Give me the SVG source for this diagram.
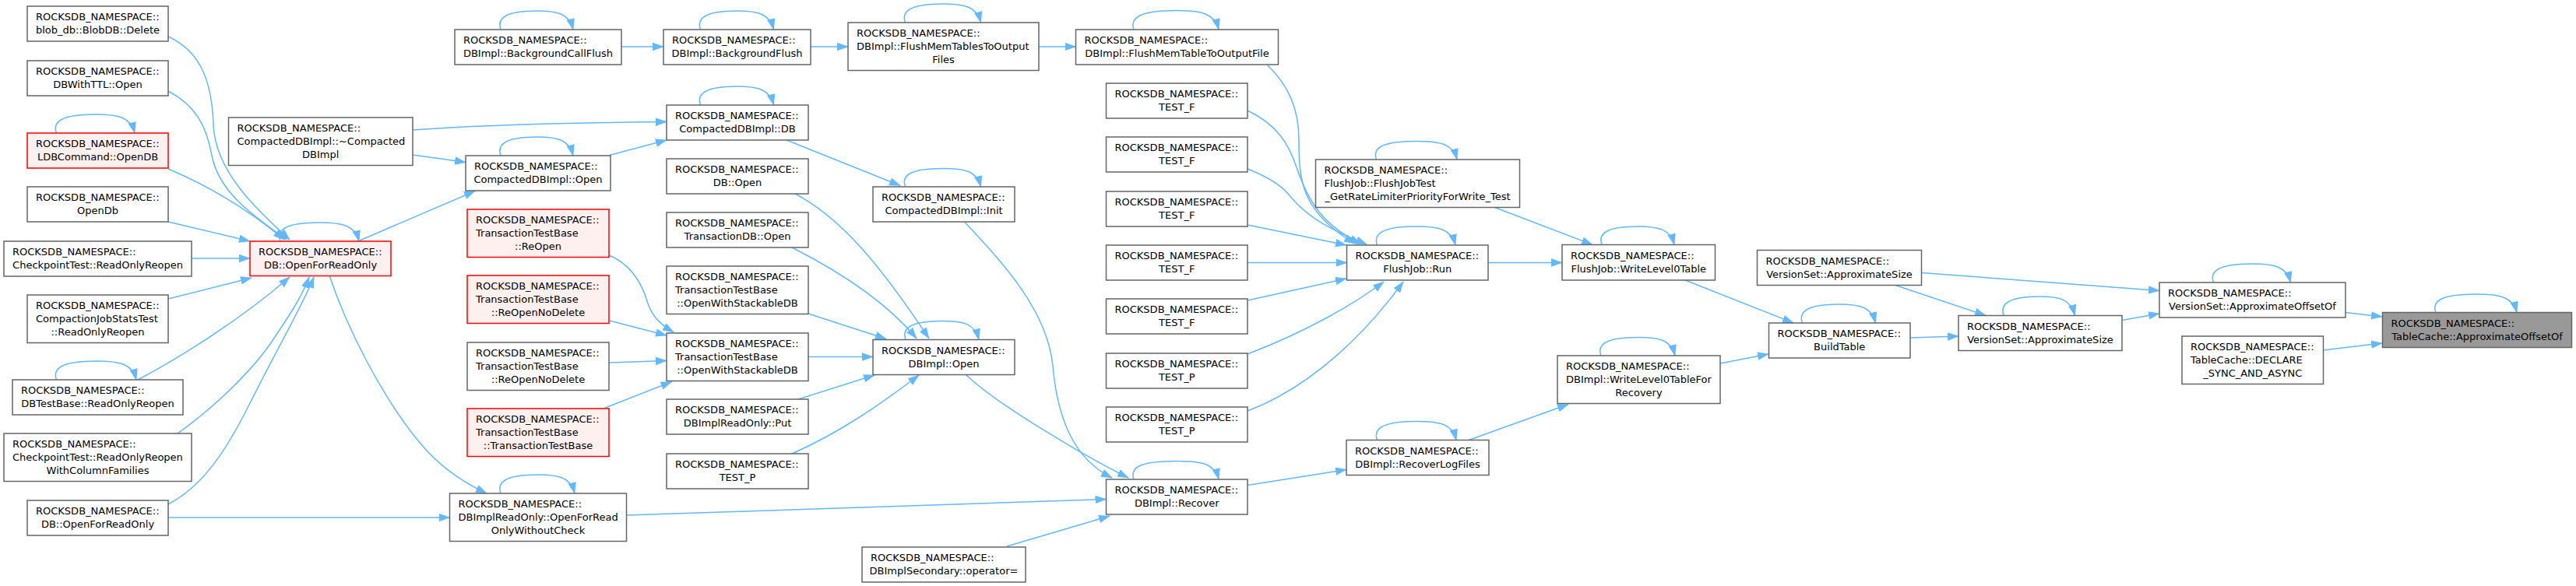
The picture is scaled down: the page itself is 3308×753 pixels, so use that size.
<svg xmlns="http://www.w3.org/2000/svg" width="3308" height="753" viewBox="0 0 3308 753">
<style>
rect.n{fill:#ffffff;stroke:#666666;stroke-width:1.5}
rect.r{fill:#fff0f0;stroke:#ff0000;stroke-width:1.5}
rect.g{fill:#999999;stroke:#666666;stroke-width:1.5}
text{font-family:"DejaVu Sans","Liberation Sans",sans-serif;font-size:13px;fill:#000000}
text.m{text-anchor:middle}
path.e{fill:none;stroke:#63b8ff;stroke-width:1.5}
</style>
<defs>
<marker id="a" markerUnits="userSpaceOnUse" markerWidth="15" markerHeight="11" viewBox="0 0 15 10.5" refX="14" refY="5.25" orient="auto"><path d="M0,0L15,5.25L0,10.5z" fill="#63b8ff"/></marker>
</defs>
<rect width="3308" height="753" fill="#ffffff"/>

<g id="edges">
<path class="e" marker-end="url(#a)" d="M3012,401.5L3059,407"/>
<path class="e" marker-end="url(#a)" d="M2983.5,450L3059,441"/>
<path class="e" marker-end="url(#a)" d="M2467.5,350.5L2773,373.5"/>
<path class="e" marker-end="url(#a)" d="M2725,411.5L2773,403"/>
<path class="e" marker-end="url(#a)" d="M2434,366.5L2550,405.5"/>
<path class="e" marker-end="url(#a)" d="M2453,434L2515,432"/>
<path class="e" marker-end="url(#a)" d="M2164,360L2303,415"/>
<path class="e" marker-end="url(#a)" d="M2209,467L2271,455"/>
<path class="e" marker-end="url(#a)" d="M1911,337.5L2006,337.5"/>
<path class="e" marker-end="url(#a)" d="M1919.5,266.5L2045,314.5"/>
<path class="e" marker-end="url(#a)" d="M1886,565.5L2014,519.5"/>
<path class="e" marker-end="url(#a)" d="M1602,623.5L1729,603.5"/>
<path class="e" marker-end="url(#a)" d="M1627,83C1655,110 1668,140 1668,180C1668,230 1670,272 1740,313"/>
<path class="e" marker-end="url(#a)" d="M1602,142C1640,160 1655,185 1665,215C1680,260 1700,290 1747,313"/>
<path class="e" marker-end="url(#a)" d="M1602,217C1630,228 1645,238 1655,250C1675,275 1700,292 1755,314"/>
<path class="e" marker-end="url(#a)" d="M1602,289L1729,315"/>
<path class="e" marker-end="url(#a)" d="M1602,337.5L1729.5,337.5"/>
<path class="e" marker-end="url(#a)" d="M1602,386L1729,358"/>
<path class="e" marker-end="url(#a)" d="M1602,455C1680,425 1740,390 1777,362"/>
<path class="e" marker-end="url(#a)" d="M1602,528C1690,495 1760,420 1802,362"/>
<path class="e" marker-end="url(#a)" d="M1334,60L1381.5,60"/>
<path class="e" marker-end="url(#a)" d="M1041,60L1089,60"/>
<path class="e" marker-end="url(#a)" d="M798,60L852,60"/>
<path class="e" marker-end="url(#a)" d="M1010,180L1156,238.5"/>
<path class="e" marker-end="url(#a)" d="M530,167C600,162 700,158 856,156.5"/>
<path class="e" marker-end="url(#a)" d="M530,199L598,208.5"/>
<path class="e" marker-end="url(#a)" d="M782.5,199.5L856,180"/>
<path class="e" marker-end="url(#a)" d="M462,309L610,245.5"/>
<path class="e" marker-end="url(#a)" d="M423,354C445,420 490,510 540,570C565,600 595,620 625,634"/>
<path class="e" marker-end="url(#a)" d="M216,47C255,65 272,100 274,160C276,220 330,270 372,308"/>
<path class="e" marker-end="url(#a)" d="M216,117C250,135 265,160 272,200C282,250 330,280 368,308"/>
<path class="e" marker-end="url(#a)" d="M216,217C270,240 320,270 365,308"/>
<path class="e" marker-end="url(#a)" d="M216,285L321,310"/>
<path class="e" marker-end="url(#a)" d="M246,332L321,332"/>
<path class="e" marker-end="url(#a)" d="M216,384L323,357"/>
<path class="e" marker-end="url(#a)" d="M177,488C230,460 310,410 372,356"/>
<path class="e" marker-end="url(#a)" d="M228,557C280,520 330,470 355,430C375,400 388,380 397,356"/>
<path class="e" marker-end="url(#a)" d="M216,648C260,625 290,580 320,520C360,440 390,390 403,356"/>
<path class="e" marker-end="url(#a)" d="M216,665L577.5,665"/>
<path class="e" marker-end="url(#a)" d="M804.5,662C1000,655 1200,649 1420.5,641.5"/>
<path class="e" marker-end="url(#a)" d="M1293,702L1425,663"/>
<path class="e" marker-end="url(#a)" d="M1240.5,481.5C1280,520 1400,590 1449,614"/>
<path class="e" marker-end="url(#a)" d="M1238.5,285C1290,340 1345,400 1352,470C1358,540 1380,590 1428,614"/>
<path class="e" marker-end="url(#a)" d="M1021,249C1080,280 1130,340 1193,435"/>
<path class="e" marker-end="url(#a)" d="M1017,318C1080,350 1140,390 1177,435"/>
<path class="e" marker-end="url(#a)" d="M1038,403L1138,435.5"/>
<path class="e" marker-end="url(#a)" d="M1038,458.5L1121,458.5"/>
<path class="e" marker-end="url(#a)" d="M1025,513L1123,482"/>
<path class="e" marker-end="url(#a)" d="M1017,583C1080,555 1130,520 1180,482"/>
<path class="e" marker-end="url(#a)" d="M782.5,328C810,340 825,365 832,390C838,408 850,418 865,427"/>
<path class="e" marker-end="url(#a)" d="M782.5,412L856,431"/>
<path class="e" marker-end="url(#a)" d="M782.5,466L856,463.5"/>
<path class="e" marker-end="url(#a)" d="M776,524.5L862.5,490.5"/>
<path class="e" marker-end="url(#a)" d="M72.5,171C67.5,157 77.5,147 122.5,147C153,147 168,151 173,171"/>
<path class="e" marker-end="url(#a)" d="M72.5,488C67.5,474 77.5,464 123.5,464C155,464 170,468 175,488"/>
<path class="e" marker-end="url(#a)" d="M360,310C355,296 365,286 410,286C441,286 456,290 461,310"/>
<path class="e" marker-end="url(#a)" d="M643,38C638,24 648,14 689.5,14C717,14 731,18 736,38"/>
<path class="e" marker-end="url(#a)" d="M643,200C638,186 648,176 689.5,176C717,176 731,180 736,200"/>
<path class="e" marker-end="url(#a)" d="M643,634C638,620 648,610 690.5,610C719,610 733,614 738,634"/>
<path class="e" marker-end="url(#a)" d="M899.5,38C894.5,24 904.5,14 946.5,14C974,14 988.5,18 993.5,38"/>
<path class="e" marker-end="url(#a)" d="M899.5,135C894.5,121 904.5,111 946.5,111C974,111 988.5,115 993.5,135"/>
<path class="e" marker-end="url(#a)" d="M1162.5,29C1157.5,15 1167.5,5 1211,5C1240,5 1254.5,9 1259.5,29"/>
<path class="e" marker-end="url(#a)" d="M1162.5,240C1157.5,226 1167.5,216.5 1211,216.5C1240,216.5 1254.5,220 1259.5,240"/>
<path class="e" marker-end="url(#a)" d="M1163,436.5C1158,422.5 1168,412.5 1210,412.5C1238,412.5 1252,416 1257,436.5"/>
<path class="e" marker-end="url(#a)" d="M1456,38C1451,24 1461,13.5 1510.5,13.5C1544,13.5 1560,18 1565,38"/>
<path class="e" marker-end="url(#a)" d="M1456,616C1451,602 1461,592.5 1510.5,592.5C1544,592.5 1560,596 1565,616"/>
<path class="e" marker-end="url(#a)" d="M1767.5,205C1762.5,191 1772.5,181.5 1819,181.5C1850,181.5 1866,185 1871,205"/>
<path class="e" marker-end="url(#a)" d="M1768.5,315C1763.5,301 1773.5,291 1818.5,291C1849,291 1864,295 1869,315"/>
<path class="e" marker-end="url(#a)" d="M1768.5,565.5C1763.5,551.5 1773.5,541.5 1819,541.5C1850,541.5 1865,545 1870,565.5"/>
<path class="e" marker-end="url(#a)" d="M2057,314.5C2052,300.5 2062,291 2103.5,291C2131,291 2145,295 2150,314.5"/>
<path class="e" marker-end="url(#a)" d="M2056,457C2051,443 2061,433.5 2103.5,433.5C2132,433.5 2146,437 2151,457"/>
<path class="e" marker-end="url(#a)" d="M2314.5,415C2309.5,401 2319.5,391 2361.5,391C2390,391 2403.5,395 2408.5,415"/>
<path class="e" marker-end="url(#a)" d="M2573,405.5C2568,391.5 2578,381 2619,381C2646,381 2659.5,385 2664.5,405.5"/>
<path class="e" marker-end="url(#a)" d="M2842.5,363C2837.5,349 2847.5,339 2892,339C2922,339 2936.5,343 2941.5,363"/>
<path class="e" marker-end="url(#a)" d="M3128,401.5C3123,387.5 3133,378 3180,378C3211,378 3227,382 3232,401.5"/>
</g>

<g id="n_blob"><rect class="n" x="35" y="8" width="181" height="45"/><text x="46" y="26">ROCKSDB_NAMESPACE::</text><text class="m" x="125.5" y="43">blob_db::BlobDB::Delete</text></g>
<g id="n_ttl"><rect class="n" x="35" y="78" width="181" height="45"/><text x="46" y="96">ROCKSDB_NAMESPACE::</text><text class="m" x="125.5" y="113">DBWithTTL::Open</text></g>
<g id="n_ldb"><rect class="r" x="35" y="171" width="181" height="45"/><text x="46" y="189">ROCKSDB_NAMESPACE::</text><text class="m" x="125.5" y="206">LDBCommand::OpenDB</text></g>
<g id="n_opendb"><rect class="n" x="35" y="240" width="181" height="45"/><text x="46" y="258">ROCKSDB_NAMESPACE::</text><text class="m" x="125.5" y="275">OpenDb</text></g>
<g id="n_cpro"><rect class="n" x="5" y="310" width="241" height="45"/><text x="16" y="328">ROCKSDB_NAMESPACE::</text><text class="m" x="125.5" y="345">CheckpointTest::ReadOnlyReopen</text></g>
<g id="n_cjst"><rect class="n" x="35" y="379" width="181" height="61.5"/><text x="46" y="397">ROCKSDB_NAMESPACE::</text><text x="46" y="414">CompactionJobStatsTest</text><text class="m" x="125.5" y="431">::ReadOnlyReopen</text></g>
<g id="n_dbtb"><rect class="n" x="16" y="488" width="219" height="45"/><text x="27" y="506">ROCKSDB_NAMESPACE::</text><text class="m" x="125.5" y="523">DBTestBase::ReadOnlyReopen</text></g>
<g id="n_cprocf"><rect class="n" x="5" y="557" width="241" height="61.5"/><text x="16" y="575">ROCKSDB_NAMESPACE::</text><text x="16" y="592">CheckpointTest::ReadOnlyReopen</text><text class="m" x="125.5" y="609">WithColumnFamilies</text></g>
<g id="n_ofro2"><rect class="n" x="35" y="643" width="181" height="45"/><text x="46" y="661">ROCKSDB_NAMESPACE::</text><text class="m" x="125.5" y="678">DB::OpenForReadOnly</text></g>

<g id="n_ofro"><rect class="r" x="321" y="310" width="181" height="44.5"/><text x="332" y="328">ROCKSDB_NAMESPACE::</text><text class="m" x="411.5" y="345">DB::OpenForReadOnly</text></g>
<g id="n_dtor"><rect class="n" x="293.5" y="151" width="236.5" height="61.5"/><text x="304.5" y="169">ROCKSDB_NAMESPACE::</text><text x="304.5" y="186">CompactedDBImpl::~Compacted</text><text class="m" x="411.75" y="203">DBImpl</text></g>

<g id="n_bgcf"><rect class="n" x="584" y="38" width="214" height="45"/><text x="595" y="56">ROCKSDB_NAMESPACE::</text><text class="m" x="691" y="73">DBImpl::BackgroundCallFlush</text></g>
<g id="n_cdbopen"><rect class="n" x="598" y="200" width="186" height="45"/><text x="609" y="218">ROCKSDB_NAMESPACE::</text><text class="m" x="691" y="235">CompactedDBImpl::Open</text></g>
<g id="n_reopen"><rect class="r" x="600" y="269" width="182" height="61.5"/><text x="611" y="287">ROCKSDB_NAMESPACE::</text><text x="611" y="304">TransactionTestBase</text><text class="m" x="691" y="321">::ReOpen</text></g>
<g id="n_reopennd"><rect class="r" x="600" y="354" width="182" height="61.5"/><text x="611" y="372">ROCKSDB_NAMESPACE::</text><text x="611" y="389">TransactionTestBase</text><text class="m" x="691" y="406">::ReOpenNoDelete</text></g>
<g id="n_reopennd2"><rect class="n" x="600" y="440" width="182" height="61.5"/><text x="611" y="458">ROCKSDB_NAMESPACE::</text><text x="611" y="475">TransactionTestBase</text><text class="m" x="691" y="492">::ReOpenNoDelete</text></g>
<g id="n_ttb"><rect class="r" x="600" y="525" width="182" height="61.5"/><text x="611" y="543">ROCKSDB_NAMESPACE::</text><text x="611" y="560">TransactionTestBase</text><text class="m" x="691" y="577">::TransactionTestBase</text></g>
<g id="n_ofrowc"><rect class="n" x="577.5" y="634" width="227" height="61.5"/><text x="588.5" y="652">ROCKSDB_NAMESPACE::</text><text x="588.5" y="669">DBImplReadOnly::OpenForRead</text><text class="m" x="691" y="686">OnlyWithoutCheck</text></g>

<g id="n_bgf"><rect class="n" x="852" y="38" width="189" height="45"/><text x="863" y="56">ROCKSDB_NAMESPACE::</text><text class="m" x="946.5" y="73">DBImpl::BackgroundFlush</text></g>
<g id="n_cdbdb"><rect class="n" x="856" y="135" width="182" height="45"/><text x="867" y="153">ROCKSDB_NAMESPACE::</text><text class="m" x="947" y="170">CompactedDBImpl::DB</text></g>
<g id="n_dbopen"><rect class="n" x="856" y="204" width="182" height="45"/><text x="867" y="222">ROCKSDB_NAMESPACE::</text><text class="m" x="947" y="239">DB::Open</text></g>
<g id="n_tdbopen"><rect class="n" x="856" y="273" width="182" height="45"/><text x="867" y="291">ROCKSDB_NAMESPACE::</text><text class="m" x="947" y="308">TransactionDB::Open</text></g>
<g id="n_owsdb1"><rect class="n" x="856" y="342" width="182" height="61.5"/><text x="867" y="360">ROCKSDB_NAMESPACE::</text><text x="867" y="377">TransactionTestBase</text><text class="m" x="947" y="394">::OpenWithStackableDB</text></g>
<g id="n_owsdb2"><rect class="n" x="856" y="428" width="182" height="61.5"/><text x="867" y="446">ROCKSDB_NAMESPACE::</text><text x="867" y="463">TransactionTestBase</text><text class="m" x="947" y="480">::OpenWithStackableDB</text></g>
<g id="n_roput"><rect class="n" x="856" y="513" width="182" height="45"/><text x="867" y="531">ROCKSDB_NAMESPACE::</text><text class="m" x="947" y="548">DBImplReadOnly::Put</text></g>
<g id="n_testp0"><rect class="n" x="856" y="583" width="182" height="45"/><text x="867" y="601">ROCKSDB_NAMESPACE::</text><text class="m" x="947" y="618">TEST_P</text></g>

<g id="n_fmtof"><rect class="n" x="1089" y="29" width="245" height="61.5"/><text x="1100" y="47">ROCKSDB_NAMESPACE::</text><text x="1100" y="64">DBImpl::FlushMemTablesToOutput</text><text class="m" x="1211.5" y="81">Files</text></g>
<g id="n_cdbinit"><rect class="n" x="1121" y="240" width="182" height="45"/><text x="1132" y="258">ROCKSDB_NAMESPACE::</text><text class="m" x="1212" y="275">CompactedDBImpl::Init</text></g>
<g id="n_dbiopen"><rect class="n" x="1121" y="436.5" width="182" height="45"/><text x="1132" y="454.5">ROCKSDB_NAMESPACE::</text><text class="m" x="1212" y="471.5">DBImpl::Open</text></g>
<g id="n_secop"><rect class="n" x="1107" y="703" width="210" height="45"/><text x="1118" y="721">ROCKSDB_NAMESPACE::</text><text class="m" x="1212" y="738">DBImplSecondary::operator=</text></g>

<g id="n_fmtof1"><rect class="n" x="1381.5" y="38" width="260" height="45"/><text x="1392.5" y="56">ROCKSDB_NAMESPACE::</text><text class="m" x="1511.5" y="73">DBImpl::FlushMemTableToOutputFile</text></g>
<g id="n_tf1"><rect class="n" x="1420.5" y="107" width="181.5" height="45"/><text x="1431.5" y="125">ROCKSDB_NAMESPACE::</text><text class="m" x="1511.25" y="142">TEST_F</text></g>
<g id="n_tf2"><rect class="n" x="1420.5" y="176" width="181.5" height="45"/><text x="1431.5" y="194">ROCKSDB_NAMESPACE::</text><text class="m" x="1511.25" y="211">TEST_F</text></g>
<g id="n_tf3"><rect class="n" x="1420.5" y="246" width="181.5" height="45"/><text x="1431.5" y="264">ROCKSDB_NAMESPACE::</text><text class="m" x="1511.25" y="281">TEST_F</text></g>
<g id="n_tf4"><rect class="n" x="1420.5" y="315" width="181.5" height="45"/><text x="1431.5" y="333">ROCKSDB_NAMESPACE::</text><text class="m" x="1511.25" y="350">TEST_F</text></g>
<g id="n_tf5"><rect class="n" x="1420.5" y="384" width="181.5" height="45"/><text x="1431.5" y="402">ROCKSDB_NAMESPACE::</text><text class="m" x="1511.25" y="419">TEST_F</text></g>
<g id="n_tp1"><rect class="n" x="1420.5" y="454" width="181.5" height="45"/><text x="1431.5" y="472">ROCKSDB_NAMESPACE::</text><text class="m" x="1511.25" y="489">TEST_P</text></g>
<g id="n_tp2"><rect class="n" x="1420.5" y="523" width="181.5" height="45"/><text x="1431.5" y="541">ROCKSDB_NAMESPACE::</text><text class="m" x="1511.25" y="558">TEST_P</text></g>
<g id="n_recover"><rect class="n" x="1420.5" y="616" width="181.5" height="45"/><text x="1431.5" y="634">ROCKSDB_NAMESPACE::</text><text class="m" x="1511.25" y="651">DBImpl::Recover</text></g>

<g id="n_fjtest"><rect class="n" x="1689.5" y="205" width="262" height="61.5"/><text x="1700.5" y="223">ROCKSDB_NAMESPACE::</text><text x="1700.5" y="240">FlushJob::FlushJobTest</text><text class="m" x="1820.5" y="257">_GetRateLimiterPriorityForWrite_Test</text></g>
<g id="n_fjrun"><rect class="n" x="1729.5" y="315" width="181.5" height="45"/><text x="1740.5" y="333">ROCKSDB_NAMESPACE::</text><text class="m" x="1820.25" y="350">FlushJob::Run</text></g>
<g id="n_rlf"><rect class="n" x="1729" y="565.5" width="183" height="45"/><text x="1740" y="583.5">ROCKSDB_NAMESPACE::</text><text class="m" x="1820.5" y="600.5">DBImpl::RecoverLogFiles</text></g>

<g id="n_wl0"><rect class="n" x="2006" y="314.5" width="196.5" height="45.5"/><text x="2017" y="332.5">ROCKSDB_NAMESPACE::</text><text class="m" x="2104.25" y="349.5">FlushJob::WriteLevel0Table</text></g>
<g id="n_wl0r"><rect class="n" x="2000" y="457" width="209" height="61.5"/><text x="2011" y="475">ROCKSDB_NAMESPACE::</text><text x="2011" y="492">DBImpl::WriteLevel0TableFor</text><text class="m" x="2104.5" y="509">Recovery</text></g>

<g id="n_build"><rect class="n" x="2271.5" y="415" width="181.5" height="45"/><text x="2282.5" y="433">ROCKSDB_NAMESPACE::</text><text class="m" x="2362.25" y="450">BuildTable</text></g>
<g id="n_vsas1"><rect class="n" x="2256.5" y="321.5" width="211" height="45"/><text x="2267.5" y="339.5">ROCKSDB_NAMESPACE::</text><text class="m" x="2362" y="356.5">VersionSet::ApproximateSize</text></g>
<g id="n_vsas2"><rect class="n" x="2515" y="405.5" width="210" height="45"/><text x="2526" y="423.5">ROCKSDB_NAMESPACE::</text><text class="m" x="2620" y="440.5">VersionSet::ApproximateSize</text></g>

<g id="n_vsaoo"><rect class="n" x="2773" y="363" width="239" height="45"/><text x="2784" y="381">ROCKSDB_NAMESPACE::</text><text class="m" x="2892.5" y="398">VersionSet::ApproximateOffsetOf</text></g>
<g id="n_decl"><rect class="n" x="2802" y="432" width="181.5" height="61.5"/><text x="2813" y="450">ROCKSDB_NAMESPACE::</text><text x="2813" y="467">TableCache::DECLARE</text><text class="m" x="2892.75" y="484">_SYNC_AND_ASYNC</text></g>
<g id="n_tcaoo"><rect class="g" x="3059.5" y="401.5" width="243" height="45"/><text x="3070.5" y="419.5">ROCKSDB_NAMESPACE::</text><text class="m" x="3181" y="436.5">TableCache::ApproximateOffsetOf</text></g>
</svg>
